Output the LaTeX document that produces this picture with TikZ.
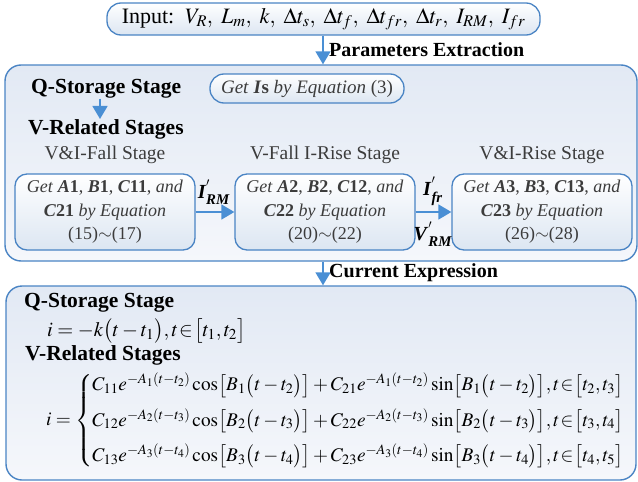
\documentclass[tikz,border=0pt]{standalone}
\usepackage{amsmath}
\usepackage{mathptmx}
\usepackage{fontspec}
\setmainfont{Liberation Serif}
\usetikzlibrary{arrows.meta,positioning}
\definecolor{edgeblue}{HTML}{4A84C4}
\definecolor{arrowblue}{HTML}{4A8FD4}
\definecolor{panetop}{HTML}{E2E9F4}
\definecolor{panebot}{HTML}{F5F7FB}
\definecolor{cellbot}{HTML}{DCE6F2}
\definecolor{txtgray}{HTML}{3C3C3C}
\tikzset{
  pane/.style={draw=edgeblue,line width=1.4pt,rounded corners=16pt,top color=panetop,bottom color=panebot},
  cell/.style={draw=edgeblue,line width=1.3pt,rounded corners=12pt,top color=white,bottom color=cellbot,
    minimum width=180pt,minimum height=76pt,align=center,text=txtgray,font=\fontsize{18}{23.5}\selectfont},
  pill/.style={draw=edgeblue,line width=1.3pt,rounded corners=14pt,top color=white,bottom color=cellbot},
  head/.style={font=\fontsize{21.5}{23}\selectfont\bfseries,inner sep=0pt},
  midlbl/.style={font=\fontsize{20}{22}\selectfont\bfseries,inner sep=0pt},
  stagelbl/.style={font=\fontsize{19.5}{21}\selectfont,text=txtgray,inner sep=0pt},
  flow/.style={-{Triangle[width=15pt,length=13pt]},arrowblue,line width=1.6pt},
}
\newcommand{\bi}[1]{\textbf{\textit{#1}}}
\newcommand{\inset}{\mathrel{\mskip-3mu\in\mskip-3mu}}
\begin{document}
\begin{tikzpicture}[x=1pt,y=-1pt]
  \useasboundingbox (0,0) rectangle (638,482);
  % input
  \node[pill,minimum width=433pt,minimum height=32pt,font=\fontsize{22}{24}\selectfont] (input) at (323.5,19)
    {Input:\ \ $V_R,\ L_m,\ k,\ \Delta t_s,\ \Delta t_f,\ \Delta t_{fr},\ \Delta t_r,\ I_{RM},\ I_{fr}$};
  % parameter stage
  \node[pane,minimum width=632pt,minimum height=196pt] (param) at (321,163) {};
  \draw[flow] (input.south -| 323,0) -- (param.north -| 323,0);
  \node[midlbl,anchor=west] (parlbl) at (329,50) {Parameters Extraction};
  \node[head,anchor=west] (qs) at (31,89) {Q-Storage Stage};
  \node[pill,minimum width=194pt,minimum height=29pt,text=txtgray,font=\fontsize{19}{21}\selectfont] (getis) at (307,88.5)
    {\textit{Get} \bi{I}\textbf{s} \textit{by Equation} (3)};
  \node[head,anchor=west] (vr) at (28,129) {V-Related Stages};
  \draw[flow] (qs.south -| 100,0) -- (vr.north -| 100,0);
  \node[stagelbl] (lblA) at (105,155) {V\&I-Fall Stage};
  \node[stagelbl] (lblB) at (325,155) {V-Fall I-Rise Stage};
  \node[stagelbl] (lblC) at (542,155) {V\&I-Rise Stage};
  \node[cell] (cellA) at (105,212) {\textit{Get} \bi{A}\textbf{1}, \bi{B}\textbf{1}, \bi{C}\textbf{11}, \textit{and}\\
    \bi{C}\textbf{21} \textit{by Equation}\\ (15)$\sim$(17)};
  \node[cell] (cellB) at (325,212) {\textit{Get} \bi{A}\textbf{2}, \bi{B}\textbf{2}, \bi{C}\textbf{12}, \textit{and}\\
    \bi{C}\textbf{22} \textit{by Equation}\\ (20)$\sim$(22)};
  \node[cell] (cellC) at (542,212) {\textit{Get} \bi{A}\textbf{3}, \bi{B}\textbf{3}, \bi{C}\textbf{13}, \textit{and}\\
    \bi{C}\textbf{23} \textit{by Equation}\\ (26)$\sim$(28)};
  \draw[flow] (cellA) -- (cellB);
  \draw[flow] (cellB) -- (cellC);
  \node[font=\fontsize{20}{22}\selectfont] (irm) at (214,192) {$\bi{I}^{'}_{\bi{RM}}$};
  \node[font=\fontsize{20}{22}\selectfont] (ifr) at (433,191) {$\bi{I}^{'}_{\bi{fr}}$};
  \node[font=\fontsize{20}{22}\selectfont] (vrm) at (433,234) {$\bi{V}^{'}_{\bi{RM}}$};
  % current expression
  \node[pane,minimum width=630pt,minimum height=194pt] (expr) at (321,383) {};
  \draw[flow] (param.south -| 323,0) -- (expr.north -| 323,0);
  \node[midlbl,anchor=west] (curlbl) at (329,273) {Current Expression};
  \node[head,anchor=west] (qs2) at (24,303) {Q-Storage Stage};
  \node[anchor=west,inner sep=0pt,font=\fontsize{20.5}{22}\selectfont] (eqq) at (47,331)
    {$i=-k\bigl(t-t_1\bigr),t\inset\bigl[t_1,t_2\bigr]$};
  \node[head,anchor=west] (vr2) at (25,355) {V-Related Stages};
  \node[anchor=west,inner sep=0pt,font=\fontsize{19.3}{21}\selectfont] (eqv) at (46,421)
    {$i=\begin{cases}
      C_{11}e^{-A_1(t-t_2)}\cos\bigl[B_1\bigl(t-t_2\bigr)\bigr]+C_{21}e^{-A_1(t-t_2)}\sin\bigl[B_1\bigl(t-t_2\bigr)\bigr],t\inset\bigl[t_2,t_3\bigr]\\[10pt]
      C_{12}e^{-A_2(t-t_3)}\cos\bigl[B_2\bigl(t-t_3\bigr)\bigr]+C_{22}e^{-A_2(t-t_3)}\sin\bigl[B_2\bigl(t-t_3\bigr)\bigr],t\inset\bigl[t_3,t_4\bigr]\\[10pt]
      C_{13}e^{-A_3(t-t_4)}\cos\bigl[B_3\bigl(t-t_4\bigr)\bigr]+C_{23}e^{-A_3(t-t_4)}\sin\bigl[B_3\bigl(t-t_4\bigr)\bigr],t\inset\bigl[t_4,t_5\bigr]
    \end{cases}$};
\end{tikzpicture}
\end{document}
